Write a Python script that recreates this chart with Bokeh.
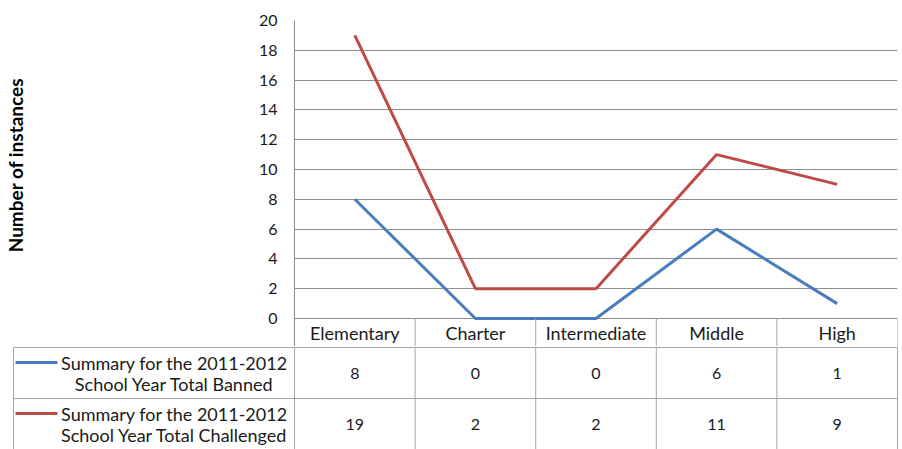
from bokeh.plotting import figure
from bokeh.layouts import column
from bokeh.models import Range1d, FixedTicker
from bokeh.embed import file_html
from bokeh.resources import INLINE
from bokeh.core.properties import value

# ---- data ----
categories = ["Elementary", "Charter", "Intermediate", "Middle", "High"]
banned = [8, 0, 0, 6, 1]
challenged = [19, 2, 2, 11, 9]
banned_label = ["Summary for the 2011-2012", "School Year Total Banned"]
challenged_label = ["Summary for the 2011-2012", "School Year Total Challenged"]
y_ticks = [0, 2, 4, 6, 8, 10, 12, 14, 16, 18, 20]
y_label = "Number of instances"

# ---- styles / layout ----
BLUE = "#4a7ebb"
RED = "#be4b48"
GRID = "#8e8e8e"
TABLE = "#a6a6a6"
TXT = "#1a1a1a"
FONT = value("Lato")
W = 902
LEFT = 294
RIGHT = 5
TOP = 20
PLOT_BOTTOM_PX = 318
TOP_H = 346
ROW_PX = 51
TABLE_LEFT_PX = 13
LABEL_PAD = "\u00a0" * 8   # nudges the centred axis title up to the plot-area centre

n = len(categories)
colw = (W - LEFT - RIGHT) / n
ymax = max(y_ticks)
ppu = (PLOT_BOTTOM_PX - TOP) / (ymax - min(y_ticks))
y_start = -(TOP_H - PLOT_BOTTOM_PX) / ppu
xs = [i + 0.5 for i in range(n)]

p = figure(width=W, height=TOP_H, x_range=Range1d(0, n), y_range=Range1d(y_start, ymax),
           x_axis_type=None, output_backend="svg", toolbar_location=None,
           min_border_left=LEFT, min_border_right=RIGHT, min_border_top=TOP, min_border_bottom=0)
p.frame_align = False
p.outline_line_color = None
p.xgrid.visible = False
p.ygrid.ticker = FixedTicker(ticks=y_ticks)
p.ygrid.grid_line_color = GRID
p.yaxis.ticker = FixedTicker(ticks=y_ticks)
p.yaxis.axis_line_color = GRID
p.yaxis.major_tick_line_color = None
p.yaxis.minor_tick_line_color = None
p.yaxis.major_tick_out = 0
p.yaxis.major_tick_in = 0
p.yaxis.major_label_standoff = 17
p.yaxis.major_label_text_font = "Lato"
p.yaxis.major_label_text_font_size = "16px"
p.yaxis.major_label_text_color = TXT
p.yaxis.axis_label = LABEL_PAD + y_label
p.yaxis.axis_label_text_font = "Lato"
p.yaxis.axis_label_text_font_style = "bold"
p.yaxis.axis_label_text_font_size = "19px"
p.yaxis.axis_label_text_color = "#000000"
p.yaxis.axis_label_standoff = 229

p.line(xs, banned, line_color=BLUE, line_width=3)
p.line(xs, challenged, line_color=RED, line_width=3)

# header row of the data table (category names)
p.text(x=xs, y=[y_start / 2] * n, text=categories, text_font=FONT, text_font_size="18px",
       text_align="center", text_baseline="middle", text_color=TXT)
seps = list(range(n + 1))
p.segment(x0=seps, y0=[y_start] * len(seps), x1=seps, y1=[0] * len(seps), line_color=TABLE, line_width=1)

# ---- table body ----
bot_h = 449 - TOP_H
q = figure(width=W, height=bot_h, x_range=Range1d(-LEFT / colw, (W - LEFT) / colw),
           y_range=Range1d(0, 2 + (bot_h - 2 * ROW_PX) / ROW_PX),
           x_axis_type=None, y_axis_type=None, output_backend="svg", toolbar_location=None,
           min_border=0)
q.frame_align = False
q.outline_line_color = None
q.xgrid.visible = False
q.ygrid.visible = False
xl = (TABLE_LEFT_PX - LEFT) / colw
q.segment(x0=[xl, xl], y0=[2, 1], x1=[n, n], y1=[2, 1], line_color=TABLE, line_width=1)
vx = [xl] + list(range(n + 1))
q.segment(x0=vx, y0=[0] * len(vx), x1=vx, y1=[2] * len(vx), line_color=TABLE, line_width=1)

q.text(x=xs, y=[1.5] * n, text=[str(v) for v in banned], text_font=FONT, text_font_size="16px",
       text_align="center", text_baseline="middle", text_color=TXT)
q.text(x=xs, y=[0.5] * n, text=[str(v) for v in challenged], text_font=FONT, text_font_size="16px",
       text_align="center", text_baseline="middle", text_color=TXT)

off = 10.5 / ROW_PX
lx = (174 - LEFT) / colw
sw0 = (15 - LEFT) / colw
sw1 = (57 - LEFT) / colw
for center, lab, col in [(1.5, banned_label, BLUE), (0.5, challenged_label, RED)]:
    q.text(x=[lx, lx], y=[center + off, center - off], text=lab, text_font=FONT,
           text_font_size="18px", text_align="center", text_baseline="middle", text_color=TXT)
    q.segment(x0=[sw0], y0=[center + off], x1=[sw1], y1=[center + off], line_color=col, line_width=3)

layout = column(p, q, spacing=0)
open("out.html", "w").write(file_html(layout, INLINE))
